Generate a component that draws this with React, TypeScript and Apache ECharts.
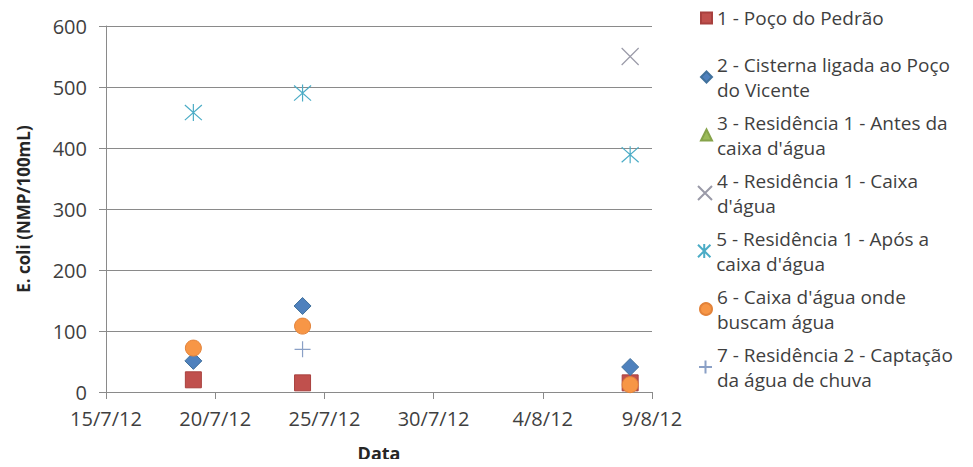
import React, { useEffect, useRef } from "react";
import * as echarts from "echarts";

// Sampling dates (d/m/yy on the axis) and E. coli counts per sampling point
const ORIGIN_DATE = "2012-07-15";
const SAMPLE_DATES = ["2012-07-19", "2012-07-24", "2012-08-08"];

const POCO_PEDRAO: (number | null)[] = [20, 15, 15];
const CISTERNA_VICENTE: (number | null)[] = [51, 141, 41];
const RES1_ANTES_CAIXA: (number | null)[] = [null, null, null];
const RES1_CAIXA: (number | null)[] = [null, null, 550];
const RES1_APOS_CAIXA: (number | null)[] = [458, 490, 389];
const CAIXA_BUSCAM: (number | null)[] = [72, 108, 12];
const RES2_CHUVA: (number | null)[] = [null, 70, null];

const SERIES_NAMES = [
  "1 - Poço do Pedrão",
  "2 - Cisterna ligada ao Poço do Vicente",
  "3 - Residência 1 - Antes da caixa d'água",
  "4 - Residência 1 - Caixa d'água",
  "5 - Residência 1 - Após a caixa d'água",
  "6 - Caixa d'água onde buscam água",
  "7 - Residência 2 - Captação da água de chuva",
];
const LEGEND_LINES = [
  "1 - Poço do Pedrão",
  "2 - Cisterna ligada ao Poço\ndo Vicente",
  "3 - Residência 1 - Antes da\ncaixa d'água",
  "4 - Residência 1 - Caixa\nd'água",
  "5 - Residência 1 - Após a\ncaixa d'água",
  "6 - Caixa d'água onde\nbuscam água",
  "7 - Residência 2 - Captação\nda água de chuva",
];

const Y_MIN = 0;
const Y_MAX = 600;
const Y_STEP = 100;
const X_MIN_DAYS = 0;
const X_MAX_DAYS = 25;
const X_STEP_DAYS = 5;

const DAY_MS = 86400000;
const originMs = Date.parse(ORIGIN_DATE + "T00:00:00Z");
const dayOffset = (iso: string) =>
  Math.round((Date.parse(iso + "T00:00:00Z") - originMs) / DAY_MS);

const dayLabel = (offset: number) => {
  const d = new Date(originMs + offset * DAY_MS);
  return `${d.getUTCDate()}/${d.getUTCMonth() + 1}/${String(d.getUTCFullYear()).slice(2)}`;
};

const FONT = "'Open Sans', sans-serif";
const TEXT_COLOR = "#3f3f3f";
const GRID_COLOR = "#8a8a8a";

const ASTERISK = "path://M0,0L16,16M16,0L0,16M8,-1L8,17";
const CROSS = "path://M0,0L10,10M10,0L0,10";
const PLUS = "path://M5,0L5,10M0,5L10,5";

export default function App() {
  const ref = useRef<HTMLDivElement>(null);

  useEffect(() => {
    if (!ref.current) return;
    const chart = echarts.init(ref.current, undefined, { renderer: "svg" });

    const toPoints = (vals: (number | null)[]) =>
      SAMPLE_DATES.map((d, i) => [dayOffset(d), vals[i]]).filter(
        (p) => p[1] !== null
      );

    const filled = (color: string, border: string) => ({
      color,
      borderColor: border,
      borderWidth: 1,
      opacity: 1,
    });
    const stroked = (color: string, width: number) => ({
      color: "transparent",
      borderColor: color,
      borderWidth: width,
      opacity: 1,
    });

    const seriesDefs = [
      { vals: POCO_PEDRAO, symbol: "rect", size: 16, icon: 11, style: filled("#c0504d", "#a8403e") },
      { vals: CISTERNA_VICENTE, symbol: "diamond", size: 17, icon: 11, style: filled("#4f81bd", "#41719c") },
      { vals: RES1_ANTES_CAIXA, symbol: "triangle", size: 14, icon: 11, style: filled("#9bbb59", "#86a34a") },
      { vals: RES1_CAIXA, symbol: CROSS, size: 17, icon: 14, style: stroked("#9a9aa8", 1.2) },
      { vals: RES1_APOS_CAIXA, symbol: ASTERISK, size: 17, icon: 14, style: stroked("#4bacc6", 1.2) },
      { vals: CAIXA_BUSCAM, symbol: "circle", size: 16, icon: 12, style: filled("#f79646", "#e3833a") },
      { vals: RES2_CHUVA, symbol: PLUS, size: 16, icon: 13, style: stroked("#8aa0c6", 1.2) },
    ];

    const series = seriesDefs.map((s, i) => ({
      name: SERIES_NAMES[i],
      type: "scatter",
      symbol: s.symbol,
      symbolSize: s.size,
      itemStyle: s.style,
      data: toPoints(s.vals),
      z: 2 + i,
    }));

    // one legend block per entry so each wraps and sits like a list
    const LINE_H = 25;
    const ICON_RIGHT = 711;
    const firstLineY = [18, 77, 135, 193, 251, 309, 367];
    const legends = SERIES_NAMES.map((name, i) => {
      const twoLines = LEGEND_LINES[i].includes("\n");
      const icon = seriesDefs[i].icon;
      return {
        show: true,
        orient: "vertical",
        left: ICON_RIGHT - icon,
        top: twoLines ? firstLineY[i] - LINE_H * 1.5 : firstLineY[i] - LINE_H / 2,
        padding: 0,
        itemWidth: icon,
        itemHeight: icon,
        itemGap: 0,
        selectedMode: false,
        data: [{ name }],
        formatter: () => LEGEND_LINES[i],
        textStyle: {
          fontFamily: FONT,
          fontSize: 19,
          color: TEXT_COLOR,
          lineHeight: LINE_H,
          padding: twoLines ? [LINE_H, 0, 0, 0] : [0, 0, 0, 0],
        },
      };
    });

    chart.setOption({
      animation: false,
      backgroundColor: "#ffffff",
      grid: { left: 106, right: 321, top: 26, bottom: 75, containLabel: false },
      legend: legends,
      xAxis: {
        type: "value",
        min: X_MIN_DAYS,
        max: X_MAX_DAYS,
        interval: X_STEP_DAYS,
        name: "Data",
        nameLocation: "middle",
        nameGap: 52,
        nameTextStyle: {
          fontFamily: FONT,
          fontSize: 18,
          fontWeight: "bold",
          color: "#262626",
        },
        axisLine: { show: true, lineStyle: { color: GRID_COLOR, width: 1 } },
        axisTick: { show: true, inside: false, length: 7, lineStyle: { color: GRID_COLOR } },
        splitLine: { show: false },
        axisLabel: {
          margin: 16,
          fontFamily: FONT,
          fontSize: 20,
          color: TEXT_COLOR,
          formatter: (v: number) => dayLabel(v),
        },
      },
      yAxis: {
        type: "value",
        min: Y_MIN,
        max: Y_MAX,
        interval: Y_STEP,
        name: "E. coli (NMP/100mL)",
        nameLocation: "middle",
        nameGap: 74,
        nameTextStyle: {
          fontFamily: FONT,
          fontSize: 17,
          fontWeight: "bold",
          color: "#262626",
        },
        axisLine: { show: true, lineStyle: { color: GRID_COLOR, width: 1 } },
        axisTick: { show: true, inside: false, length: 7, lineStyle: { color: GRID_COLOR } },
        splitLine: { show: true, lineStyle: { color: GRID_COLOR, width: 1 } },
        axisLabel: {
          margin: 19,
          fontFamily: FONT,
          fontSize: 20,
          color: TEXT_COLOR,
        },
      },
      series,
    });

    return () => chart.dispose();
  }, []);

  return <div ref={ref} style={{ width: 973, height: 467, margin: -8 }} />;
}
